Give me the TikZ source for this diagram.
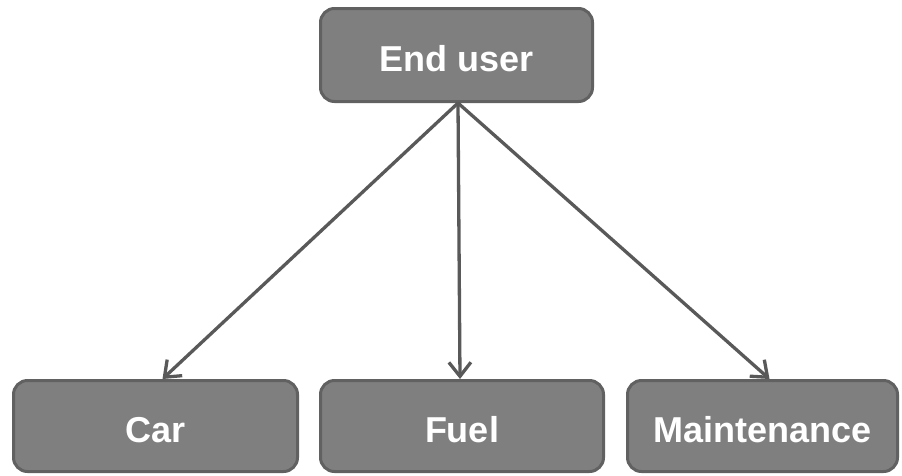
\documentclass[tikz,border=0pt]{standalone}
\usepackage{fontspec}
\setmainfont{Liberation Sans}
\usetikzlibrary{arrows.meta,calc}
\definecolor{boxfill}{HTML}{7F7F7F}
\definecolor{boxline}{HTML}{616161}
\definecolor{linkcol}{HTML}{595959}
\tikzset{
  box/.style={draw=boxline, line width=3pt, fill=boxfill, rounded corners=14pt,
    text=white, font=\bfseries\fontsize{36}{40}\selectfont, inner sep=0pt,
    text height=32pt, text depth=0pt},
  link/.style={draw=linkcol, line width=3.3pt,
    -{Straight Barb[length=14pt,width=22pt,line width=3.3pt]}}
}
\begin{document}
\begin{tikzpicture}[x=1pt,y=-1pt]
  \useasboundingbox (0,0) rectangle (902,475);
  \node[box, minimum width=272pt, minimum height=93pt] (eu) at (456.5,55) {End user};
  \node[box, minimum width=284pt, minimum height=91pt] (car) at (155.5,426) {Car};
  \node[box, minimum width=283pt, minimum height=91pt] (fuel) at (462,426) {Fuel};
  \node[box, minimum width=270pt, minimum height=91pt] (mnt) at (762.5,426) {Maintenance};
  \draw[link] ($(eu.south)+(1.5,0)$) -- ($(car.north)+(7,0)$);
  \draw[link] ($(eu.south)+(1.5,0)$) -- ($(fuel.north)+(-2,0)$);
  \draw[link] ($(eu.south)+(1.5,0)$) -- ($(mnt.north)+(7,0)$);
\end{tikzpicture}
\end{document}
